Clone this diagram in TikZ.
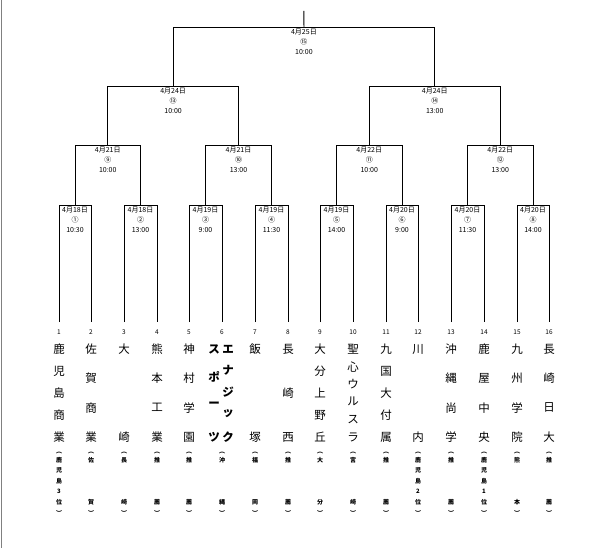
\documentclass[tikz,border=0pt]{standalone}
\usepackage{fontspec}
\setmainfont{Noto Sans CJK JP}
\begin{document}
\begin{tikzpicture}[x=1pt,y=-1pt,
  br/.style={line width=0.85pt,black},
  lab/.style={font=\fontsize{7}{10}\selectfont,inner sep=0pt,align=center,anchor=north},
  num/.style={font=\fontsize{6.5}{7}\selectfont,inner sep=0pt},
  ch/.style={font=\fontsize{11.5}{12}\selectfont,inner sep=0pt},
  sm/.style={font=\fontsize{6}{6}\selectfont\bfseries,inner sep=0pt}]
\useasboundingbox (0,0) rectangle (600,548);
\draw[gray,line width=0.8pt] (1,0) -- (1,548);
\newcommand{\team}[4]{%
  \node[num] (n#1) at (#2,332) {#1};
  \foreach \c [count=\i] in {#4} {\pgfmathsetmacro{\yy}{349+(\i-1)*88/(#3-1)}\node[ch] (t#1-\i) at (#2,\yy) {\c};}}
\newcommand{\sub}[4]{%
  \node[sm] (pa#1) at (#2,453) {︵};
  \node[sm] (pb#1) at (#2,513) {︶};
  \foreach \c [count=\i] in {#4} {\pgfmathsetmacro{\yy}{460+(\i-1)*42/(#3-1)}\node[sm] (s#1-\i) at (#2,\yy) {\c};}}
\newcommand{\match}[8]{%
  \coordinate (ma#1) at (#2,#5);
  \coordinate (mb#1) at (#3,#6);
  \coordinate (ca#1) at (#2,#4);
  \coordinate (cb#1) at (#3,#4);
  \draw[br] (ma#1) -- (ca#1) -- (cb#1) -- (mb#1);
  \pgfmathsetmacro{\mx}{(#2+#3)/2}
  \coordinate (m#1) at (\mx,#4);
  \node[lab] (l#1) at (\mx,#4+1.5) {#7\\#8};}
% round 1
\match{1}{59}{91}{205}{322}{322}{4月18日}{①\\10:30}
\match{2}{124}{157}{205}{322}{322}{4月18日}{②\\13:00}
\match{3}{189}{222}{205}{322}{322}{4月19日}{③\\9:00}
\match{4}{255}{288}{205}{322}{322}{4月19日}{④\\11:30}
\match{5}{320}{353}{205}{322}{322}{4月19日}{⑤\\14:00}
\match{6}{386}{418}{205}{322}{322}{4月20日}{⑥\\9:00}
\match{7}{451}{484}{205}{322}{322}{4月20日}{⑦\\11:30}
\match{8}{517}{549}{205}{322}{322}{4月20日}{⑧\\14:00}
% round 2
\match{9}{75}{140.5}{145}{205}{205}{4月21日}{⑨\\10:00}
\match{10}{205.5}{271.5}{145}{205}{205}{4月21日}{⑩\\13:00}
\match{11}{336.5}{402}{145}{205}{205}{4月22日}{⑪\\10:00}
\match{12}{467.5}{533}{145}{205}{205}{4月22日}{⑫\\13:00}
% round 3
\match{13}{107.75}{238.5}{86}{145}{145}{4月24日}{⑬\\10:00}
\match{14}{369.25}{500.25}{86}{145}{145}{4月24日}{⑭\\13:00}
% final
\match{15}{173.1}{434.75}{27}{86}{86}{4月25日}{⑮\\10:00}
\coordinate (top) at (303.9,11);
\draw[br] (m15) -- (top);
% teams
\team{1}{59}{5}{鹿,児,島,商,業}   \sub{1}{59}{5}{鹿,児,島,3,位}
\team{2}{91}{4}{佐,賀,商,業}      \sub{2}{91}{2}{佐,賀}
\team{3}{124}{2}{大,崎}           \sub{3}{124}{2}{長,崎}
\team{4}{157}{4}{熊,本,工,業}     \sub{4}{157}{2}{推,薦}
\team{5}{189}{4}{神,村,学,園}     \sub{5}{189}{2}{推,薦}
\sub{6}{222}{2}{沖,縄}
\node[num] (n6) at (222,332) {6};
\foreach \c/\yy [count=\i] in {エ/349,ナ/370,ジ/392,ッ/414,ク/437}
  \node[ch,font=\fontsize{11.5}{12}\selectfont\bfseries] (t6a-\i) at (228,\yy) {\c};
\foreach \c/\yy [count=\i] in {ス/349,ポ/377,ー/405,ツ/437}
  \node[ch,font=\fontsize{11.5}{12}\selectfont\bfseries] (t6b-\i) at (214,\yy) {\c};
\team{7}{255}{2}{飯,塚}           \sub{7}{255}{2}{福,岡}
\team{8}{288}{3}{長,崎,西}        \sub{8}{288}{2}{推,薦}
\team{9}{320}{5}{大,分,上,野,丘}  \sub{9}{320}{2}{大,分}
\team{10}{353}{6}{聖,心,ウ,ル,ス,ラ} \sub{10}{353}{2}{宮,崎}
\team{11}{386}{5}{九,国,大,付,属} \sub{11}{386}{2}{推,薦}
\team{12}{418}{2}{川,内}          \sub{12}{418}{5}{鹿,児,島,2,位}
\team{13}{451}{4}{沖,縄,尚,学}    \sub{13}{451}{2}{推,薦}
\team{14}{484}{4}{鹿,屋,中,央}    \sub{14}{484}{5}{鹿,児,島,1,位}
\team{15}{517}{4}{九,州,学,院}    \sub{15}{517}{2}{熊,本}
\team{16}{549}{4}{長,崎,日,大}    \sub{16}{549}{2}{推,薦}
\end{tikzpicture}
\end{document}
